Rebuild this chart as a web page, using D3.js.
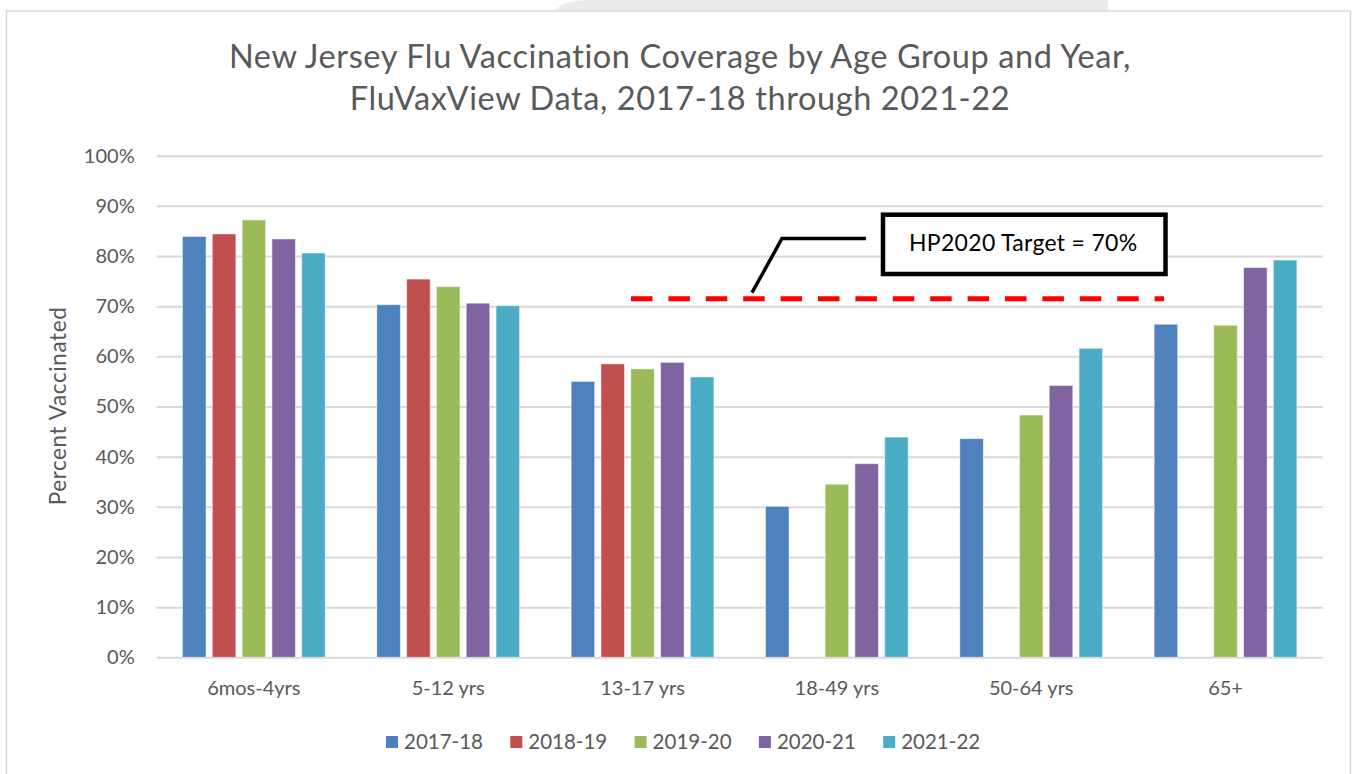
<!DOCTYPE html>
<html>
<head>
<meta charset="utf-8">
<script src="https://cdn.jsdelivr.net/npm/d3@7"></script>
<style>
  html, body { margin: 0; padding: 0; background: #fff; }
  svg { display: block; }
  text { font-family: Lato, "Open Sans", sans-serif; }
</style>
</head>
<body>
<script>
// NJ flu vaccination coverage, grouped bars

const ageGroups = ["6mos-4yrs", "5-12 yrs", "13-17 yrs", "18-49 yrs", "50-64 yrs", "65+"];
const seasons = ["2017-18", "2018-19", "2019-20", "2020-21", "2021-22"];

const v2017_18 = [83.9, 70.3, 55.0, 30.1, 43.6, 66.4];
const v2018_19 = [84.4, 75.4, 58.5, null, null, null];
const v2019_20 = [87.2, 73.9, 57.5, 34.5, 48.3, 66.2];
const v2020_21 = [83.4, 70.6, 58.8, 38.6, 54.2, 77.7];
const v2021_22 = [80.6, 70.1, 55.9, 43.9, 61.6, 79.2];

const yTicks = [0, 10, 20, 30, 40, 50, 60, 70, 80, 90, 100];
const targetValue = 71.5; // where the dashed line sits in the original
const targetLabel = "HP2020 Target = 70%";
const titleLines = [
    "New Jersey Flu Vaccination Coverage by Age Group and Year,",
    "FluVaxView Data, 2017-18 through 2021-22"
];

const seriesValues = [v2017_18, v2018_19, v2019_20, v2020_21, v2021_22];
const colors = ["#4F81BD", "#C0504D", "#9BBB59", "#8064A2", "#4BACC6"];

const width = 1353, height = 774;
const plotLeft = 156.7, plotRight = 1322.7, plotTop = 155.7, plotBottom = 657.3;
const textColor = "#595959";
const gridColor = "#d9d9d9";

const svg = d3.select("body").append("svg")
    .attr("width", width)
    .attr("height", height);

// grey tab peeking above the frame
svg.append("path")
    .attr("d", "M556,10 Q562,1 588,0 L1108,0 L1108,10 Z")
    .attr("fill", "#ebebeb");

// chart frame
svg.append("rect")
    .attr("x", 6.5).attr("y", 11)
    .attr("width", 1344).attr("height", 800)
    .attr("fill", "#fff")
    .attr("stroke", gridColor)
    .attr("stroke-width", 1.5);

const x0 = d3.scaleBand().domain(ageGroups).range([plotLeft, plotRight]).padding(0);
const x1 = d3.scaleBand().domain(seasons).range([0, x0.bandwidth()])
    .paddingInner(0.21).paddingOuter(0.865);
const y = d3.scaleLinear().domain([0, 100]).range([plotBottom, plotTop]);

// title
svg.append("g").selectAll("text")
    .data(titleLines)
    .join("text")
    .attr("x", 680)
    .attr("y", (d, i) => 68 + i * 42)
    .attr("text-anchor", "middle")
    .attr("fill", textColor)
    .style("font-size", "32.5px")
    .style("letter-spacing", "0.6px")
    .text(d => d);

// gridlines + y labels
const yAxis = svg.append("g")
    .attr("transform", `translate(${plotLeft},0)`)
    .call(d3.axisLeft(y).tickValues(yTicks).tickFormat(d => d + "%")
        .tickSize(-(plotRight - plotLeft)).tickPadding(22));
yAxis.select(".domain").remove();
yAxis.selectAll(".tick line").attr("stroke", gridColor).attr("stroke-width", 2);
yAxis.selectAll(".tick text")
    .attr("fill", textColor)
    .style("font-size", "20px")
    .style("font-family", "Lato, sans-serif");

svg.append("text")
    .attr("transform", `translate(66,406) rotate(-90)`)
    .attr("text-anchor", "middle")
    .attr("fill", textColor)
    .style("font-size", "22.5px")
    .style("letter-spacing", "0.6px")
    .text("Percent Vaccinated");

// x labels
const xAxis = svg.append("g")
    .attr("transform", `translate(0,${plotBottom})`)
    .call(d3.axisBottom(x0).tickSize(0).tickPadding(24));
xAxis.select(".domain").remove();
xAxis.selectAll(".tick text")
    .attr("fill", textColor)
    .style("font-size", "20px")
    .style("font-family", "Lato, sans-serif");

// bars
const groups = svg.append("g").selectAll("g")
    .data(ageGroups)
    .join("g")
    .attr("transform", d => `translate(${x0(d)},0)`);

groups.selectAll("rect")
    .data((d, gi) => seasons.map((s, si) => ({ s, si, v: seriesValues[si][gi] }))
        .filter(o => o.v != null))
    .join("rect")
    .attr("x", d => x1(d.s))
    .attr("width", x1.bandwidth())
    .attr("y", d => y(d.v))
    .attr("height", d => y(0) - y(d.v))
    .attr("fill", d => colors[d.si])
    .attr("stroke", "#fff")
    .attr("stroke-opacity", 0.5)
    .attr("stroke-width", 1);

// target line
svg.append("line")
    .attr("x1", 631).attr("x2", 1164)
    .attr("y1", y(targetValue)).attr("y2", y(targetValue))
    .attr("stroke", "#ff0000")
    .attr("stroke-width", 5)
    .attr("stroke-dasharray", "21.5 15.9");

// callout
svg.append("path")
    .attr("d", `M866,238.5 L782,238.5 L752,${y(targetValue) - 6}`)
    .attr("fill", "none")
    .attr("stroke", "#000")
    .attr("stroke-width", 3.5);

svg.append("rect")
    .attr("x", 883).attr("y", 214.7)
    .attr("width", 282.5).attr("height", 59.3)
    .attr("fill", "#fff")
    .attr("stroke", "#000")
    .attr("stroke-width", 4.5);

svg.append("text")
    .attr("x", 909).attr("y", 251)
    .attr("fill", "#000")
    .style("font-size", "23px")
    .style("letter-spacing", "0.3px")
    .text(targetLabel);

// legend
const legend = svg.append("g").selectAll("g")
    .data(seasons)
    .join("g")
    .attr("transform", (d, i) => `translate(${386 + i * 124.3},736)`);

legend.append("rect")
    .attr("width", 12).attr("height", 12)
    .attr("fill", (d, i) => colors[i]);

legend.append("text")
    .attr("x", 18).attr("y", 13)
    .attr("fill", textColor)
    .style("font-size", "20.5px")
    .text(d => d);
</script>
</body>
</html>
